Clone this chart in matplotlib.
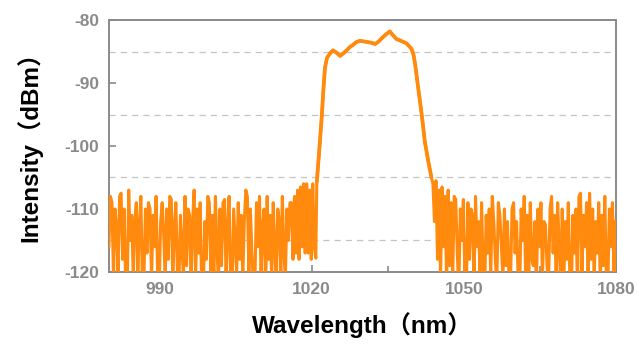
import numpy as np
import matplotlib
matplotlib.use("Agg")
import matplotlib.pyplot as plt

# ---------------- data ----------------
left_start, left_step = 980.0, 0.3
left_noise = [
    -116, -108, -109, -121, -110, -113, -120, -108, -107.5, -118,
    -110, -122, -123, -107, -115, -111, -121, -112, -109, -120,
    -113, -108, -122, -121, -110, -117, -109, -110, -121, -111,
    -116, -108, -120, -123, -112, -109, -114, -121, -110, -118,
    -108, -108.5, -122, -113, -109, -120, -122, -111, -116, -121,
    -108, -119, -110, -111, -122, -112, -107, -121, -110, -117,
    -109, -123, -124, -112, -118, -108, -109, -120, -111, -121,
    -108, -116, -122, -110, -119, -109, -108.5, -121, -113, -108,
    -122, -123, -110, -115, -120, -109, -118, -111, -121, -112,
    -107, -108, -120, -110, -117, -122, -121, -109, -116, -108,
    -121, -113, -110, -123, -108, -118, -111, -121, -109, -116,
    -122, -110, -112, -120, -108, -117, -121, -110, -115, -109,
    -109, -118, -108, -117, -107, -118, -106.5, -116, -106, -117,
    -106, -117, -107, -118, -106, -116, -117.8,
]

band_wl = [1021.0, 1021.5, 1022.0, 1022.3, 1022.6, 1023.0, 1023.6, 1024.2,
           1024.9, 1025.6, 1026.2, 1026.9, 1027.5, 1028.2, 1028.8, 1029.5,
           1030.3, 1031.1, 1031.8, 1032.5, 1033.2, 1033.8, 1034.6, 1035.4,
           1036.0, 1036.7, 1037.6, 1038.7, 1039.7, 1040.1, 1040.4, 1041.0,
           1041.7, 1042.3, 1043.0, 1043.6]
band_db = [-105.7, -100.5, -95.0, -91.0, -87.6, -86.0, -85.3, -84.8,
           -85.2, -85.7, -85.3, -84.8, -84.3, -83.9, -83.5, -83.3,
           -83.4, -83.5, -83.6, -83.8, -83.4, -82.9, -82.3, -81.8,
           -82.4, -83.0, -83.3, -83.7, -84.6, -85.6, -87.1, -90.8,
           -95.1, -99.3, -102.5, -105.0]

right_start, right_step = 1043.9, 0.3
right_noise = [
    -106, -112, -105.5, -118, -107, -121, -106.5, -116, -108, -122,
    -107, -119, -109, -121, -108, -108.5, -117, -123, -110, -115,
    -108.5, -121, -122, -109, -118, -110, -111, -122, -108, -116,
    -112, -121, -109, -120, -123, -111, -117, -110, -121, -108,
    -112, -118, -122, -109, -111, -116, -121, -110, -119, -112,
    -121, -122, -110, -109, -117, -112, -121, -123, -110, -115,
    -108, -122, -111, -120, -109, -118, -119, -112, -123, -110,
    -116, -109, -121, -112, -112.5, -119, -122, -110, -108, -117,
    -111, -121, -109, -116, -122, -110, -122, -112, -118, -109,
    -121, -123, -111, -117, -110, -123, -108, -107.5, -120, -111,
    -116, -109, -122, -107.5, -118, -110, -121, -112, -117, -109,
    -122, -111, -119, -108, -121, -122, -110, -116, -109, -120,
    -112,
]

x_major = [990, 1020, 1050, 1080]
x_minor = [1005, 1035, 1065]
y_major = [-120, -110, -100, -90, -80]
grid_levels = [-115, -105, -95, -85]

# ---------------- assemble ----------------
left_wl = left_start + left_step * np.arange(len(left_noise))
right_wl = right_start + right_step * np.arange(len(right_noise))
wl = np.concatenate([left_wl, band_wl, right_wl])
db = np.concatenate([left_noise, band_db, right_noise])

plt.rcParams['font.family'] = ['Liberation Sans', 'Noto Sans CJK SC', 'DejaVu Sans']
plt.rcParams['axes.unicode_minus'] = False

fig = plt.figure(figsize=(6.37, 3.46), dpi=100)
ax = fig.add_axes([0.171, 0.214, 0.796, 0.728])

for g in grid_levels:
    ax.axhline(g, color='#c4c4c4', lw=0.9, ls=(0, (5, 4)), zorder=1)

orange = '#ff8a0d'
ax.plot(wl, db, color=orange, lw=2.2, zorder=3)
ax.plot(band_wl, band_db, color=orange, lw=2.7, zorder=4,
        solid_capstyle='round', solid_joinstyle='round')

ax.set_xlim(980, 1080)
ax.set_ylim(-120, -80)
ax.set_xticks(x_major)
ax.set_xticks(x_minor, minor=True)
ax.set_yticks(y_major)

gray = '#8a8a8a'
for s in ax.spines.values():
    s.set_color(gray)
    s.set_linewidth(1.4)
ax.tick_params(axis='both', which='major', direction='in', length=5, width=1.2,
               color=gray, labelcolor=gray, labelsize=12.5, pad=7)
ax.tick_params(axis='x', which='minor', direction='in', length=4, width=1.2, color=gray)
for lab in ax.get_xticklabels() + ax.get_yticklabels():
    lab.set_fontweight('bold')

ax.set_xlabel('Wavelength（nm）', fontsize=17.5, fontweight='bold', labelpad=11)
ax.set_ylabel('Intensity（dBm）', fontsize=17.5, fontweight='bold')
ax.yaxis.set_label_coords(-0.132, 0.52)

fig.savefig('out.png', dpi=100)
